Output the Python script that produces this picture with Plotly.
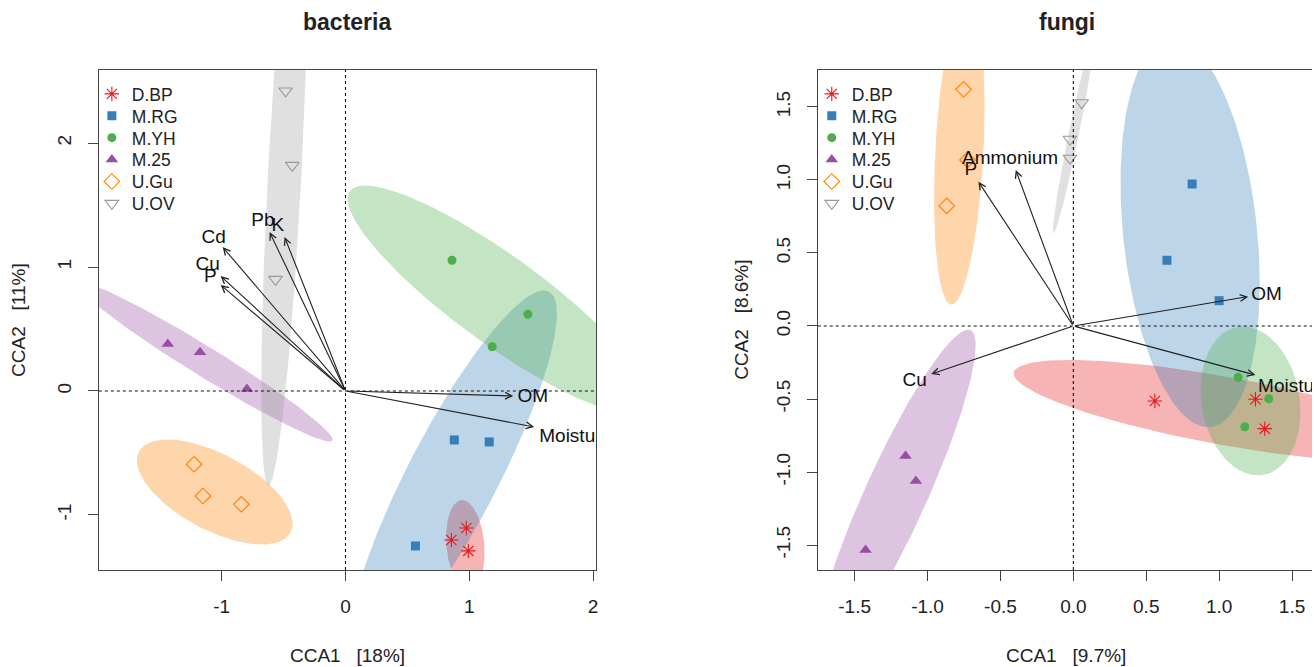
import numpy as np
import plotly.graph_objects as go

# ---------------- data ----------------
groups = ["D.BP", "M.RG", "M.YH", "M.25", "U.Gu", "U.OV"]
colors = ["#E41A1C", "#377EB8", "#4DAF4A", "#984EA3", "#FF7F00", "#999999"]
fills = ["rgba(228,26,28,0.33)", "rgba(55,126,184,0.33)", "rgba(77,175,74,0.33)",
         "rgba(152,78,163,0.33)", "rgba(255,127,0,0.33)", "rgba(153,153,153,0.30)"]
symbols = ["asterisk-open", "square", "circle", "triangle-up", "diamond-open", "triangle-down-open"]
msizes = [12, 9, 9, 11, 12, 12]

# bacteria site scores (one list per group)
bac_x = [[0.976, 0.855, 0.992], [0.879, 1.161, 0.565], [0.860, 1.473, 1.185],
         [-1.435, -1.175, -0.796], [-1.223, -1.151, -0.841], [-0.484, -0.430, -0.565]]
bac_y = [[-1.105, -1.202, -1.290], [-0.395, -0.411, -1.250], [1.054, 0.619, 0.357],
         [0.379, 0.312, 0.016], [-0.591, -0.847, -0.914], [2.420, 1.820, 0.900]]

# bacteria ellipses: centre, semi-axes, angle (deg)
bac_ell_cx = [0.968, 0.869, 1.242, -1.135, -1.056, -0.493]
bac_ell_cy = [-1.242, -0.685, 0.734, 0.236, -0.815, 1.713]
bac_ell_a = [0.363, 1.677, 1.492, 1.210, 0.694, 2.480]
bac_ell_b = [0.153, 0.363, 0.355, 0.120, 0.306, 0.135]
bac_ell_ang = [95, 62.5, -36, -31.7, -28, 87]

# bacteria environmental vectors
bac_env = ["Cd", "Cu", "P", "Pb", "K", "OM", "Moisture"]
bac_env_x = [-0.992, -1.008, -1.008, -0.613, -0.492, 1.355, 1.524]
bac_env_y = [1.161, 0.927, 0.855, 1.282, 1.242, -0.040, -0.290]
bac_lab_x = [-1.065, -1.113, -1.091, -0.667, -0.546, 1.512, 1.565]
bac_lab_y = [1.234, 1.016, 0.917, 1.371, 1.325, -0.048, -0.371]
bac_lab_pos = ["middle center"] * 6 + ["middle right"]

# fungi site scores
fun_x = [[0.559, 1.249, 1.313], [0.815, 0.642, 1.000], [1.130, 1.340, 1.176],
         [-1.151, -1.080, -1.425], [-0.753, -0.726, -0.868], [0.057, -0.023, -0.023]]
fun_y = [[-0.514, -0.502, -0.703], [0.973, 0.450, 0.173], [-0.351, -0.498, -0.690],
         [-0.890, -1.062, -1.534], [1.621, 1.137, 0.822], [1.529, 1.279, 1.149]]

fun_ell_cx = [1.041, 0.801, 1.215, -1.219, -0.782, 0.004]
fun_ell_cy = [-0.582, 0.637, -0.513, -1.162, 1.193, 1.319]
fun_ell_a = [1.473, 1.336, 0.514, 1.245, 1.048, 0.697]
fun_ell_b = [0.233, 0.459, 0.336, 0.212, 0.165, 0.035]
fun_ell_ang = [-10.3, 96, 100, 65.6, 87, 78.4]

fun_env = ["Ammonium", "P", "OM", "Moisture", "Cu"]
fun_env_x = [-0.395, -0.651, 1.199, 1.249, -0.975]
fun_env_y = [1.068, 0.988, 0.201, -0.336, -0.329]
fun_lab_x = [-0.434, -0.703, 1.325, 1.267, -1.089]
fun_lab_y = [1.142, 1.068, 0.212, -0.420, -0.375]
fun_lab_pos = ["middle center", "middle center", "middle center", "middle right", "middle center"]

bac_xticks = [-1, 0, 1, 2]
bac_yticks = [-1, 0, 1, 2]
fun_ticks = [-1.5, -1.0, -0.5, 0.0, 0.5, 1.0, 1.5]

# ---------------- figure ----------------
W, H = 1314, 667
FONT = "Liberation Sans, Arial, Helvetica, sans-serif"
fig = go.Figure()
legends = {}
LEG_ROW0, LEG_STEP = 92, 21.9


def ellipse(cx, cy, a, b, ang):
    t = np.linspace(0, 2 * np.pi, 181)
    th = np.deg2rad(ang)
    x = cx + a * np.cos(t) * np.cos(th) - b * np.sin(t) * np.sin(th)
    y = cy + a * np.cos(t) * np.sin(th) + b * np.sin(t) * np.cos(th)
    return x, y


def add_panel(p, xs, ys, ecx, ecy, ea, eb, eang, xa, ya, leg_x):
    for i, g in enumerate(groups):
        ex, ey = ellipse(ecx[i], ecy[i], ea[i], eb[i], eang[i])
        fig.add_trace(go.Scatter(x=ex, y=ey, mode="lines", fill="toself",
                                 fillcolor=fills[i], line=dict(width=0),
                                 hoverinfo="skip", showlegend=False,
                                 xaxis=xa, yaxis=ya))
    for i, g in enumerate(groups):
        k = p * 6 + i + 1
        lname = "legend" if k == 1 else f"legend{k}"
        legends[lname] = dict(
            x=leg_x / W, y=1 - (LEG_ROW0 + i * LEG_STEP - 16) / H,
            xanchor="left", yanchor="top", bgcolor="rgba(0,0,0,0)",
            font=dict(size=17.5, color="#222", family=FONT), itemclick=False,
            itemdoubleclick=False)
        open_sym = symbols[i].endswith("open")
        fig.add_trace(go.Scatter(
            x=xs[i], y=ys[i], mode="markers", name=g,
            marker=dict(symbol=symbols[i], size=msizes[i], color=colors[i],
                        line=dict(width=1.1 if open_sym else 0, color=colors[i])),
            xaxis=xa, yaxis=ya, legend=lname, showlegend=True))


add_panel(0, bac_x, bac_y, bac_ell_cx, bac_ell_cy, bac_ell_a, bac_ell_b, bac_ell_ang,
          "x", "y", 92)
add_panel(1, fun_x, fun_y, fun_ell_cx, fun_ell_cy, fun_ell_a, fun_ell_b, fun_ell_ang,
          "x2", "y2", 813)

# arrow labels (clipped to plot area)
fig.add_trace(go.Scatter(x=bac_lab_x, y=bac_lab_y, text=bac_env, mode="text",
                         textposition=bac_lab_pos, cliponaxis=True,
                         textfont=dict(size=19, color="#111", family=FONT),
                         showlegend=False, hoverinfo="skip", xaxis="x", yaxis="y"))
fig.add_trace(go.Scatter(x=fun_lab_x, y=fun_lab_y, text=fun_env, mode="text",
                         textposition=fun_lab_pos, cliponaxis=True,
                         textfont=dict(size=19, color="#111", family=FONT),
                         showlegend=False, hoverinfo="skip", xaxis="x2", yaxis="y2"))

annotations = []
for ex, ey, xr, yr in [(bac_env_x, bac_env_y, "x", "y"), (fun_env_x, fun_env_y, "x2", "y2")]:
    for tx, ty in zip(ex, ey):
        annotations.append(dict(x=tx, y=ty, ax=0, ay=0, xref=xr, yref=yr,
                                axref=xr, ayref=yr, text="", showarrow=True,
                                arrowhead=5, arrowsize=1.2, arrowwidth=1.1,
                                arrowcolor="#222", standoff=0, startstandoff=0))


def ptxt(text, px, py, size=19, bold=False, angle=0):
    annotations.append(dict(x=px / W, y=1 - py / H, xref="paper", yref="paper",
                            text=f"<b>{text}</b>" if bold else text, showarrow=False,
                            textangle=angle, xanchor="center", yanchor="middle",
                            font=dict(size=size, color="#222", family=FONT)))


ptxt("bacteria", 348, 22, size=23, bold=True)
ptxt("fungi", 1069, 22, size=23, bold=True)
ptxt("CCA1\u00a0\u00a0\u00a0[18%]", 348, 655)
ptxt("CCA1\u00a0\u00a0\u00a0[9.7%]", 1068, 655)
ptxt("CCA2\u00a0\u00a0\u00a0[11%]", 18, 320, angle=-90)
ptxt("CCA2\u00a0\u00a0\u00a0[8.6%]", 742, 320, angle=-90)

shapes = []
for xr, yr in [("x", "y"), ("x2", "y2")]:
    shapes.append(dict(type="line", xref=f"{xr} domain", yref=yr, x0=0, x1=1, y0=0, y1=0,
                       line=dict(color="#111", width=1.1, dash="dot"), layer="above"))
    shapes.append(dict(type="line", xref=xr, yref=f"{yr} domain", x0=0, x1=0, y0=0, y1=1,
                       line=dict(color="#111", width=1.1, dash="dot"), layer="above"))

axis_common = dict(showline=True, linecolor="#444", linewidth=1.3, ticks="outside",
                   ticklen=10, tickwidth=1.2, tickcolor="#444", showgrid=False,
                   zeroline=False, ticklabelstandoff=9,
                   tickfont=dict(size=19, color="#222", family=FONT))

ydom = [97 / H, 597 / H]
fig.update_layout(
    width=W, height=H, margin=dict(l=0, r=0, t=0, b=0),
    paper_bgcolor="white", plot_bgcolor="white",
    font=dict(family=FONT),
    xaxis=dict(domain=[99 / W, 597 / W], range=[-1.992, 2.024], tickvals=bac_xticks,
               ticktext=[str(v) for v in bac_xticks], mirror=True, anchor="y",
               **axis_common),
    yaxis=dict(domain=ydom, range=[-1.444, 2.589], tickvals=bac_yticks,
               ticktext=[str(v) for v in bac_yticks], tickangle=-90,
               mirror=True, anchor="x", **axis_common),
    xaxis2=dict(domain=[819 / W, 1.0], range=[-1.753, 1.637], tickvals=fun_ticks,
                ticktext=[f"{v:.1f}" for v in fun_ticks], mirror=True, anchor="y2",
                **axis_common),
    yaxis2=dict(domain=ydom, range=[-1.671, 1.753], tickvals=fun_ticks,
                ticktext=[f"{v:.1f}" for v in fun_ticks], tickangle=-90,
                mirror=False, anchor="x2", **axis_common),
    annotations=annotations, shapes=shapes, showlegend=True,
    **legends,
)

fig.write_html("out.html", config={"displayModeBar": False},
               post_script="document.body.style.margin='0';document.body.style.overflow='hidden';")
